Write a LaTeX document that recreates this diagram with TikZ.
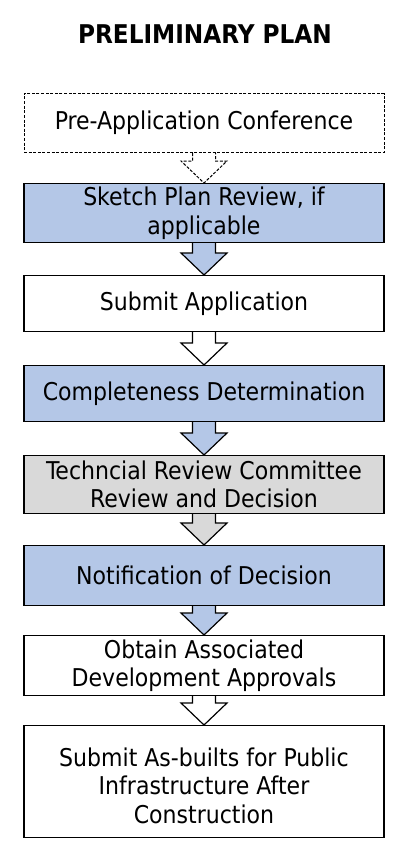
\documentclass[tikz,border=0pt]{standalone}
\usepackage{fontspec}
\setmainfont{DejaVu Sans Condensed}
\usetikzlibrary{calc}
\definecolor{stepblue}{RGB}{180,199,231}
\definecolor{stepgrey}{RGB}{217,217,217}
\tikzset{
  stepbox/.style={draw=black, line width=1.2pt, minimum width=360pt, anchor=north,
    align=center, inner sep=0pt, font=\fontsize{24.5}{28.5}\selectfont},
  dashbox/.style={stepbox, dash pattern=on 3pt off 1.6pt, line width=1pt},
  steptext/.style={align=center, inner sep=0pt, font=\fontsize{24.5}{28.5}\selectfont},
}
% #1 from node, #2 to node, #3 fill colour, #4 extra draw options
\newcommand\flowarrow[4]{%
  \path let \p1=(#1.south), \p2=(#2.north) in
    [fill=#3] (\x1-11.5,\y1) -- (\x1-11.5,\y2+22) -- (\x1-23,\y2+22) -- (\x1,\y2)
      -- (\x1+23,\y2+22) -- (\x1+11.5,\y2+22) -- (\x1+11.5,\y1) -- cycle;
  \draw[line width=1.2pt, line join=miter, #4] let \p1=(#1.south), \p2=(#2.north) in
    (\x1-11.5,\y1) -- (\x1-11.5,\y2+22) -- (\x1-23,\y2+22) -- (\x1,\y2)
      -- (\x1+23,\y2+22) -- (\x1+11.5,\y2+22) -- (\x1+11.5,\y1);
}
\begin{document}
\begin{tikzpicture}[x=1pt,y=-1pt]
\useasboundingbox[fill=white] (0,0) rectangle (402,859);
\node[font=\bfseries\fontsize{25.8}{30}\selectfont] (title) at (205,34) {PRELIMINARY PLAN};
\node[dashbox, minimum height=59pt] (b1) at (204,93) {Pre-Application Conference};
\node[stepbox, fill=stepblue, minimum height=59pt] (b2) at (204,183) {Sketch Plan Review, if\\applicable};
\node[stepbox, minimum height=56pt] (b3) at (204,275) {Submit Application};
\node[stepbox, fill=stepblue, minimum height=56pt] (b4) at (204,365) {Completeness Determination};
\node[stepbox, fill=stepgrey, minimum height=58pt] (b5) at (204,455) {Techncial Review Committee\\Review and Decision};
\node[stepbox, fill=stepblue, minimum height=60pt] (b6) at (204,545) {Notification of Decision};
\node[stepbox, minimum height=60pt] (b7) at (204,635) {Obtain Associated\\Development Approvals};
\node[stepbox, minimum height=112pt] (b8) at (204,725) {};
\node[steptext] (b8text) at ($(b8.center)+(0,4)$) {Submit As-builts for Public\\Infrastructure After\\Construction};
\flowarrow{b1}{b2}{white}{line width=1pt, dash pattern=on 3pt off 1.6pt}
\flowarrow{b2}{b3}{stepblue}{}
\flowarrow{b3}{b4}{white}{}
\flowarrow{b4}{b5}{stepblue}{}
\flowarrow{b5}{b6}{stepgrey}{}
\flowarrow{b6}{b7}{stepblue}{}
\flowarrow{b7}{b8}{white}{}
\end{tikzpicture}
\end{document}
